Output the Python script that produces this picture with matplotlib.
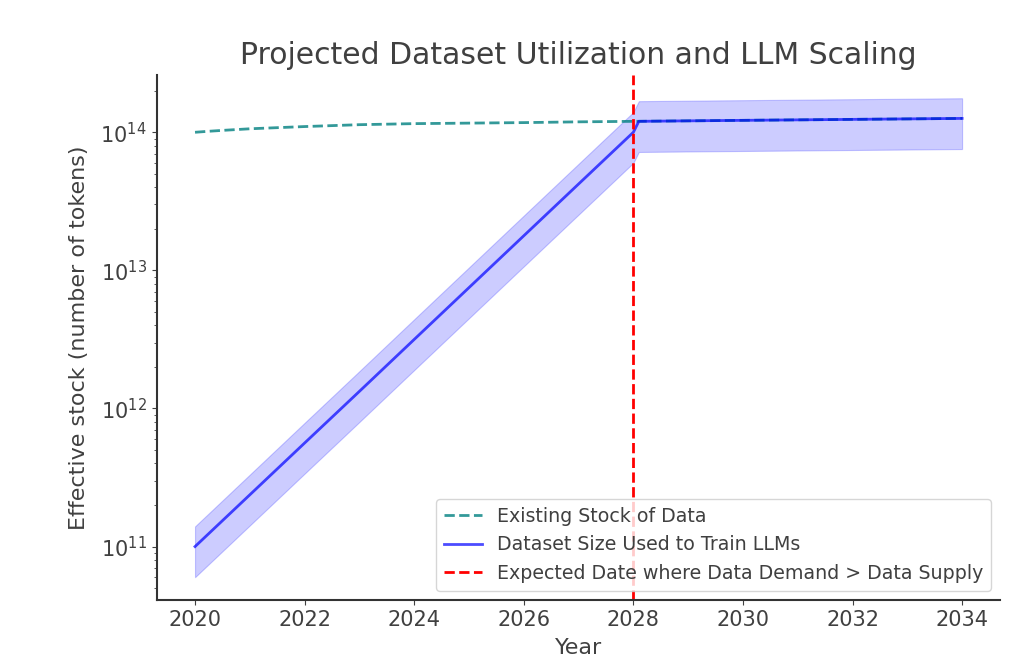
import numpy as np
import matplotlib
matplotlib.use("Agg")
import matplotlib.pyplot as plt

# years
stock_years = [2020, 2020.25, 2020.5, 2021, 2022, 2023, 2024, 2025, 2026, 2027,
               2028, 2029, 2030, 2031, 2032, 2033, 2034]
stock_tokens = [1.00e14, 1.017e14, 1.032e14, 1.06e14, 1.10e14, 1.135e14, 1.155e14,
                1.165e14, 1.175e14, 1.19e14, 1.20e14, 1.21e14, 1.22e14, 1.23e14,
                1.24e14, 1.25e14, 1.26e14]

data_years = [2020, 2021, 2022, 2023, 2024, 2025, 2026, 2027, 2028, 2028.1,
              2029, 2030, 2031, 2032, 2033, 2034]
data_tokens = [1.0e11, 2.37e11, 5.62e11, 1.33e12, 3.16e12, 7.5e12, 1.78e13,
               4.22e13, 1.0e14, 1.20e14, 1.21e14, 1.22e14, 1.23e14, 1.24e14,
               1.25e14, 1.26e14]

# uncertainty band (multiplicative)
band_low = 0.6
band_high = 1.4

cutoff_year = 2028

TXT = '#404040'
plt.rcParams['font.family'] = ['DejaVu Sans']
plt.rcParams['text.color'] = TXT
plt.rcParams['axes.labelcolor'] = TXT
plt.rcParams['xtick.color'] = TXT
plt.rcParams['ytick.color'] = TXT


def main():
    fig = plt.figure(figsize=(10.24, 6.67), dpi=100)
    ax = fig.add_axes([0.153, 0.1004, 0.824, 0.7872])

    ax.plot(stock_years, stock_tokens, '--', color='teal', alpha=0.8,
            linewidth=2, label='Existing Stock of Data')

    d = np.array(data_tokens)
    ax.plot(data_years, d, color='blue', alpha=0.7, linewidth=2,
            label='Dataset Size Used to Train LLMs')
    ax.fill_between(data_years, d * band_low, d * band_high,
                    color='blue', alpha=0.2, linewidth=0.8)

    ax.axvline(cutoff_year, color='red', linestyle='--', linewidth=2,
               label='Expected Date where Data Demand > Data Supply')

    ax.set_yscale('log')
    ax.set_xlim(2019.3, 2034.7)
    ax.set_ylim(4.1e10, 2.6e14)
    ax.set_xticks([2020, 2022, 2024, 2026, 2028, 2030, 2032, 2034])

    ax.set_title('Projected Dataset Utilization and LLM Scaling', fontsize=21.5, pad=8)
    ax.set_xlabel('Year', fontsize=16, labelpad=6)
    ax.set_ylabel('Effective stock (number of tokens)', fontsize=16, labelpad=8)
    ax.tick_params(labelsize=15)

    for s in ['top', 'right']:
        ax.spines[s].set_visible(False)
    for s in ['left', 'bottom']:
        ax.spines[s].set_color('#333333')
        ax.spines[s].set_linewidth(1.5)

    ax.legend(loc='lower right', fontsize=13.7)

    plt.savefig('out.png', dpi=100)
    plt.close()


if __name__ == "__main__":
    main()
